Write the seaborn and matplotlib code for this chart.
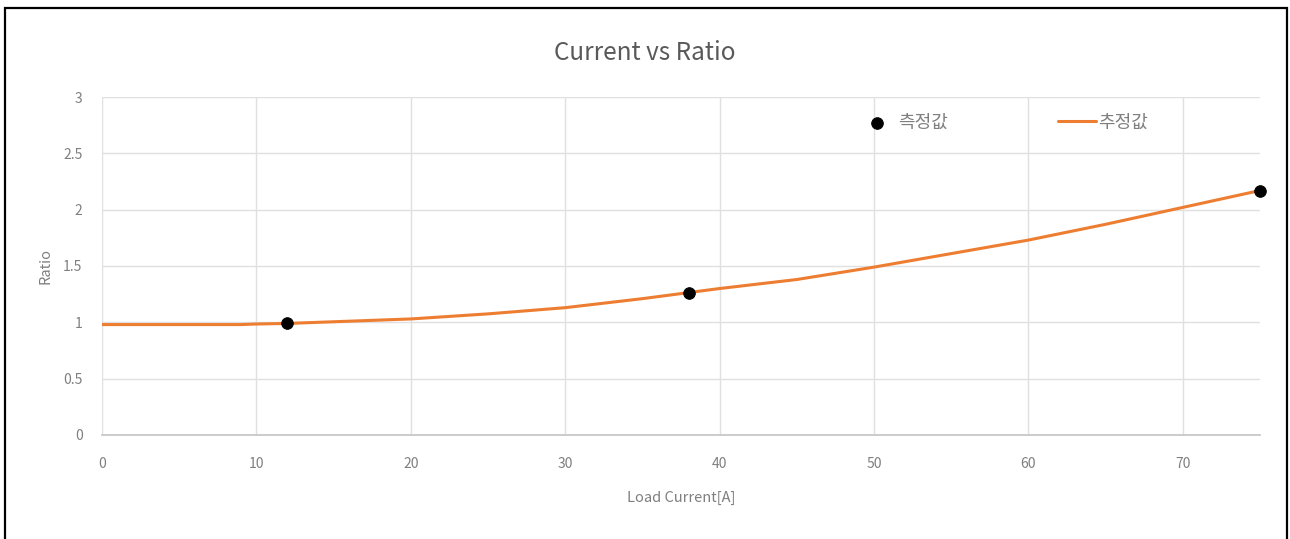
import matplotlib
matplotlib.use("Agg")
import matplotlib.pyplot as plt
from matplotlib.patches import Rectangle
import seaborn as sns
import pandas as pd

# Measured ratio at three load currents
measured_current = [12, 38, 75]
measured_ratio = [0.99, 1.26, 2.17]

# Estimated ratio curve over the load-current range
estimate_current = [0, 5, 9, 10, 12, 15, 20, 25, 30, 35, 40, 45, 50, 55, 60, 65, 70, 75]
estimate_ratio = [0.98, 0.98, 0.98, 0.985, 0.99, 1.005, 1.03, 1.075, 1.13, 1.21, 1.30,
                  1.38, 1.49, 1.61, 1.73, 1.87, 2.02, 2.17]

x_ticks = [0, 10, 20, 30, 40, 50, 60, 70]
y_ticks = [0, 0.5, 1, 1.5, 2, 2.5, 3]
y_tick_labels = ["0", "0.5", "1", "1.5", "2", "2.5", "3"]

sns.set_theme(style="whitegrid")
plt.rcParams["font.family"] = ["Noto Sans CJK KR", "DejaVu Sans"]

text_color = "#7f7f7f"
grid_color = "#e0e0e0"
orange = "#ed7d31"

fig = plt.figure(figsize=(12.9, 5.39), dpi=100)
ax = fig.add_axes([0.0791, 0.193, 0.8976, 0.627])

est_df = pd.DataFrame({"current": estimate_current, "ratio": estimate_ratio})
meas_df = pd.DataFrame({"current": measured_current, "ratio": measured_ratio})

sns.lineplot(data=est_df, x="current", y="ratio", ax=ax, color=orange,
             linewidth=2.2, label="추정값", zorder=3)
sns.scatterplot(data=meas_df, x="current", y="ratio", ax=ax, color="black",
                s=70, edgecolor="black", label="측정값", zorder=4, clip_on=False)

ax.set_xlim(0, 75)
ax.set_ylim(0, 3)
ax.set_xticks(x_ticks)
ax.set_yticks(y_ticks)
ax.set_yticklabels(y_tick_labels)
ax.grid(True, color=grid_color, linewidth=1)
ax.set_facecolor("white")
for side in ["left", "right", "top"]:
    ax.spines[side].set_visible(False)
ax.spines["bottom"].set_color("#c4c4c4")
ax.spines["bottom"].set_linewidth(1.2)
ax.tick_params(axis="both", length=0, colors=text_color, labelsize=10)
ax.tick_params(axis="x", pad=16)
ax.tick_params(axis="y", pad=14)

ax.set_xlabel("Load Current[A]", color=text_color, fontsize=10.5, labelpad=14)
ax.set_ylabel("Ratio", color=text_color, fontsize=10.5, labelpad=8)
fig.suptitle("Current vs Ratio", color="#595959", fontsize=17.5, y=0.925)

handles, labels = ax.get_legend_handles_labels()
order = [labels.index("측정값"), labels.index("추정값")]
leg = ax.legend([handles[i] for i in order], [labels[i] for i in order],
                ncol=2, frameon=False, loc="center", bbox_to_anchor=(0.778, 0.925),
                fontsize=13, handlelength=2.1, handletextpad=0.1, columnspacing=6.1,
                labelcolor=text_color)

# Outer frame around the chart
fig.patches.append(Rectangle((5 / 1290, -0.1), 1282 / 1290, 1.1 - 8 / 539,
                             transform=fig.transFigure, fill=False,
                             edgecolor="black", linewidth=1.6))

fig.savefig("out.png", dpi=100, facecolor="white")
